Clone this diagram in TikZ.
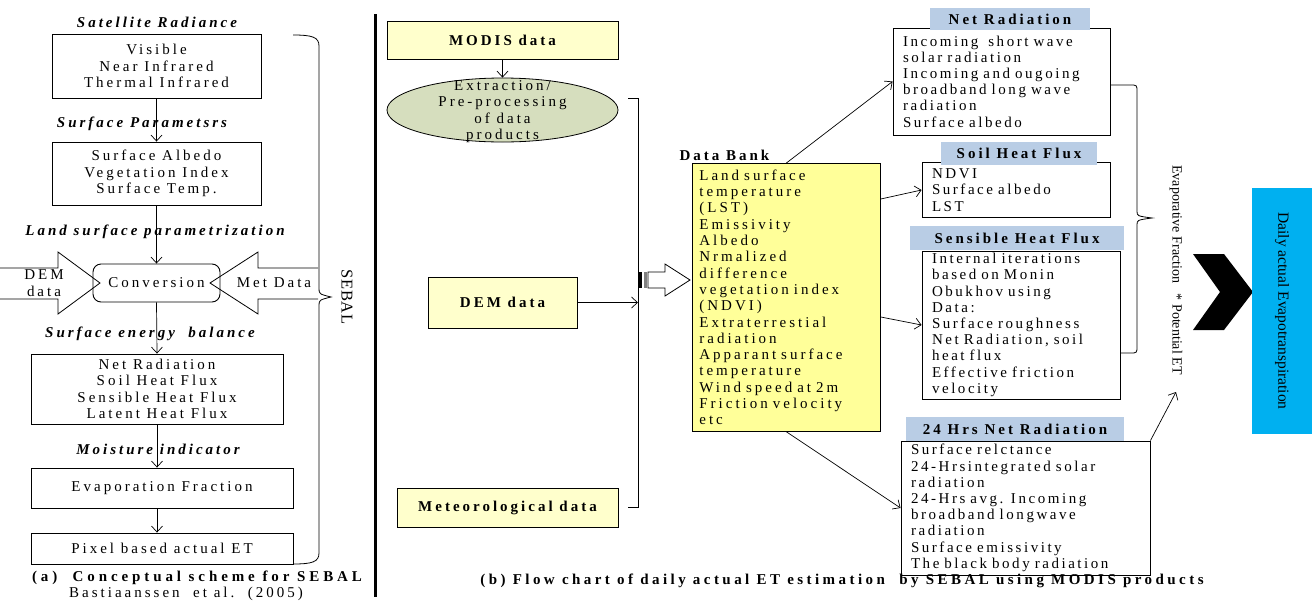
\documentclass[tikz,border=0pt]{standalone}
\usepackage{fontspec}
\setmainfont{Liberation Serif}
\newfontfamily\lsr[LetterSpace=20]{Liberation Serif}
\newfontfamily\lsrr[LetterSpace=17]{Liberation Serif}
\newfontfamily\lsrb[LetterSpace=23]{Liberation Serif}
\newfontfamily\lsrw[LetterSpace=26]{Liberation Serif}
\newfontfamily\lsrs[LetterSpace=5]{Liberation Serif}
\usetikzlibrary{arrows.meta,shapes.geometric}
\definecolor{lyel}{RGB}{255,255,204}
\definecolor{dbyel}{RGB}{255,255,153}
\definecolor{ellgreen}{RGB}{214,222,190}
\definecolor{hdrblue}{RGB}{185,205,229}
\definecolor{cyanbox}{RGB}{0,176,240}
\newcommand\fL{\lsr\fontsize{15}{16.5}\selectfont}
\newcommand\fH{\lsr\bfseries\itshape\fontsize{15}{17}\selectfont}
\newcommand\fB{\lsr\bfseries\fontsize{15}{18}\selectfont}
\newcommand\fM{\lsr\fontsize{15}{16.3}\selectfont}
\newcommand\fR{\lsrr\fontsize{15}{16.2}\selectfont}
\tikzset{
  box/.style={draw, line width=0.9pt, inner sep=0pt, align=center},
  lbox/.style={draw, line width=0.9pt, inner xsep=10pt, inner ysep=0pt, align=left, font=\fR},
  hdr/.style={fill=hdrblue, inner sep=0pt, font=\fB},
  arr/.style={-{Straight Barb[length=6pt,width=11pt]}, line width=0.7pt},
  thin/.style={line width=0.8pt},
}
\begin{document}
\begin{tikzpicture}[x=1pt,y=-1pt]
\useasboundingbox (0,0) rectangle (1312,600);
% ---------------- left panel ----------------
\node[font=\fH] (h1) at (157,22) {Satellite  Radiance};
\node[box, minimum width=209, minimum height=64, font=\fL] (b1) at (156.5,66) {Visible\\Near Infrared\\Thermal Infrared};
\node[font=\fH] (h2) at (142,124) {Surface Parametsrs};
\node[box, minimum width=209, minimum height=63, font=\fL] (b2) at (156.5,173.5) {Surface Albedo\\Vegetation Index\\Surface Temp.};
\node[font=\fH] (h3) at (155,232) {Land surface parametrization};
% block arrows
\draw[thin, fill=white] (0,268) -- (58,268) -- (58,252) -- (100,283) -- (58,314) -- (58,299) -- (0,299);
\draw[thin, fill=white] (318,268) -- (258,268) -- (258,252) -- (210,283) -- (258,314) -- (258,299) -- (318,299);
\node[box, rounded corners=8pt, minimum width=127, minimum height=38, font=\fL] (conv) at (156.5,283) {Conversion};
\node[font=\fL, align=center] (dem) at (44,283) {DEM\\data};
\node[font=\fL] (met) at (274,283) {Met Data};
\node[font=\fH] (h4) at (150,334) {Surface energy\ \ balance};
\node[box, minimum width=252, minimum height=70, font=\fL] (b3) at (157,389) {Net Radiation\\Soil Heat Flux\\Sensible Heat Flux\\Latent Heat Flux};
\node[font=\fH] (h5) at (158,449) {Moisture indicator};
\node[box, minimum width=262, minimum height=40, font=\fL] (b4) at (162,488) {Evaporation Fraction};
\node[box, minimum width=262, minimum height=31, font=\fL] (b5) at (162,548.5) {Pixel based actual ET};
\draw[arr] (b1.south) -- (b2.north);
\draw[arr] (b2.south) -- (conv.north);
\draw[arr] (conv.south) -- (b3.north);
\draw[arr] (b3.south) -- (b3.south |- b4.north);
\draw[arr] (b3.south |- b4.south) -- (b3.south |- b5.north);
% SEBAL brace
\draw[thin] (293,35) .. controls (312,35) and (319,37) .. (319,46) -- (319,288) .. controls (319,294) .. (331,297) .. controls (319,300) .. (319,306) -- (319,553) .. controls (319,562) and (312,564) .. (293,564);
\node[font=\lsrs\fontsize{16.5}{18}\selectfont, rotate=-90] (sebal) at (347,297) {SEBAL};
\node[font=\lsrw\bfseries\fontsize{15}{16}\selectfont] (capa) at (197,578) {(a)\ \ Conceptual scheme for SEBAL};
\node[font=\lsr\fontsize{15}{16}\selectfont] (capa2) at (186,594) {Bastiaanssen\ \ et al.\ \ (2005)};
% separator
\draw[line width=3pt] (375,14) -- (375,597);
% ---------------- middle panel ----------------
\node[box, fill=lyel, minimum width=231, minimum height=38, font=\fB] (modis) at (502.5,40) {MODIS data};
\node[ellipse, draw, thin, fill=ellgreen, minimum width=231, minimum height=64, inner sep=0pt] (ell) at (502.5,110) {};
\node[font=\fM, align=center] (ellt) at (502.5,111.5) {Extraction/\\Pre-processing\\of data\\products};
\draw[arr] (modis.south) -- (ell.north);
\node[box, fill=lyel, minimum width=149, minimum height=51, font=\fB] (demb) at (502.5,302.5) {DEM data};
\node[box, fill=lyel, minimum width=221, minimum height=39, font=\fB] (metb) at (507.5,507.5) {Meteorological data};
\coordinate (brT) at (638,98);
\coordinate (brB) at (638,507);
\draw[thin] (628,98) -- (brT) -- (brB) -- (628,507);
\draw[arr] (demb.east) -- (demb.east -| brT);
% striped arrow
\fill[black] (638,272) rectangle (642,288);
\fill[gray] (643.5,272) rectangle (647,288);
\draw[thin, fill=white] (648,272) -- (665,272) -- (665,264) -- (690,280) -- (665,296) -- (665,288) -- (648,288) -- cycle;
% data bank
\node[draw, thin, fill=dbyel, anchor=north west, minimum width=188, minimum height=268, text width=174, inner xsep=7pt, inner ysep=0pt, align=left, font=\fM] (db) at (692,163) {Land surface\\temperature\\(LST)\\Emissivity\\Albedo\\Nrmalized\\difference\\vegetation index\\(NDVI)\\Extraterrestial\\radiation\\Apparant surface\\temperature\\Wind speed at 2m\\Friction velocity\\etc};
\node[font=\fB, anchor=west] (dbl) at (676,155) {Data Bank};
% right boxes
\node[lbox, minimum width=217, minimum height=107, text width=197] (nr) at (1001.5,81.5) {Incoming\ \ short wave\\solar radiation\\Incoming and ougoing\\broadband long wave\\radiation\\Surface albedo};
\node[hdr, minimum width=160, minimum height=22] (nrh) at (1010,19) {Net Radiation};
\node[lbox, minimum width=188, minimum height=55, text width=168] (soil) at (1016,190) {NDVI\\Surface albedo\\LST};
\node[hdr, minimum width=156, minimum height=23] (soilh) at (1019,153.5) {Soil Heat Flux};
\node[lbox, minimum width=198, minimum height=148, text width=178] (sh) at (1021,325) {Internal iterations\\based on Monin\\Obukhov using\\Data:\\Surface roughness\\Net Radiation, soil\\heat flux\\Effective friction\\velocity};
\node[hdr, minimum width=214, minimum height=24] (shh) at (1017,238) {Sensible Heat Flux};
\node[lbox, minimum width=249, minimum height=134, text width=229] (h24) at (1025.5,508) {Surface relctance\\24-Hrsintegrated solar\\radiation\\24-Hrs avg. Incoming\\broadband longwave\\radiation\\Surface emissivity\\The black body radiation};
\node[hdr, minimum width=218, minimum height=24] (h24h) at (1015,429) {24 Hrs Net Radiation};
% connectors from data bank
\draw[arr] (db.north) -- (nr.west);
\draw[arr] ([yshift=-36pt]db.north east) -- (soil.west);
\draw[arr] ([yshift=-154pt]db.north east) -- (sh.west);
\draw[arr] (db.south) -- (h24.west);
% EF brace
\draw[thin] (nr.east |- 0,85) -- (1130,85) .. controls (1137,85) .. (1137,92) -- (1137,211) .. controls (1137,216) .. (1152,218) .. controls (1137,220) .. (1137,225) -- (1137,346) .. controls (1137,353) .. (1130,353) -- (sh.east |- 0,353);
\node[font=\fontsize{14}{16}\selectfont, rotate=-90] (ef) at (1176,270) {Evaporative Fraction\ \ \ *\ Potential ET};
\coordinate (efend) at (1176,392);
\draw[arr] (h24.north east) -- (efend);
% chevron
\fill[black] (1193,254) -- (1224,254) -- (1253,292) -- (1224,330) -- (1193,330) -- (1220,292) -- cycle;
\node[fill=cyanbox, minimum width=60, minimum height=246, inner sep=0pt] (daily) at (1282,311) {};
\node[font=\fontsize{15.5}{18}\selectfont, rotate=-90] (dailyt) at (1282,311) {Daily actual Evapotranspiration};
% caption b
\node[font=\lsrb\bfseries\fontsize{15}{16}\selectfont] (capb) at (842,581) {(b) Flow chart of daily actual ET estimation\ \ by SEBAL using MODIS products};
\end{tikzpicture}
\end{document}
